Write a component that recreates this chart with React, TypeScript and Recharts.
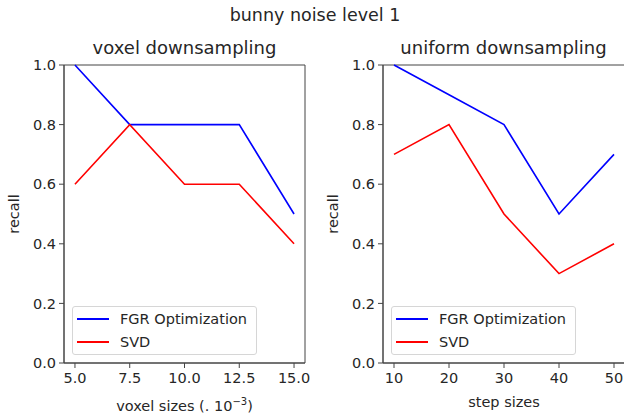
import React from 'react';
import { LineChart, Line, XAxis, YAxis, ReferenceArea } from 'recharts';

const voxelSizes = [5.0, 7.5, 10.0, 12.5, 15.0];
const voxelFGR = [1.0, 0.8, 0.8, 0.8, 0.5];
const voxelSVD = [0.6, 0.8, 0.6, 0.6, 0.4];
const stepSizes = [10, 20, 30, 40, 50];
const stepFGR = [1.0, 0.9, 0.8, 0.5, 0.7];
const stepSVD = [0.7, 0.8, 0.5, 0.3, 0.4];
const yTicks = [0, 0.2, 0.4, 0.6, 0.8, 1.0];
const seriesNames = ['FGR Optimization', 'SVD'];

const FONT = '"DejaVu Sans", sans-serif';
const TXT = '#262626';
const AX = '#444';
const FS = 14.5;

const voxelData = voxelSizes.map((x, i) => ({ x, fgr: voxelFGR[i], svd: voxelSVD[i] }));
const stepData = stepSizes.map((x, i) => ({ x, fgr: stepFGR[i], svd: stepSVD[i] }));

const tickStyle = { fill: TXT, fontSize: FS, fontFamily: FONT };

const LegendBox = ({ left, top }: { left: number; top: number }) => (
  <div
    style={{
      position: 'absolute',
      left,
      top,
      width: 185,
      height: 49,
      border: '1px solid #d6d6d6',
      borderRadius: 3,
      background: 'rgba(255,255,255,0.85)',
      fontFamily: FONT,
      fontSize: FS,
      color: TXT,
      boxSizing: 'border-box',
    }}
  >
    {seriesNames.map((n, i) => (
      <div key={n} style={{ position: 'absolute', left: 4, top: 3 + i * 23, height: 18, display: 'flex', alignItems: 'center' }}>
        <div style={{ width: 32, height: 2, background: i === 0 ? '#0000ff' : '#ff0000' }} />
        <span style={{ marginLeft: 11, whiteSpace: 'nowrap' }}>{n}</span>
      </div>
    ))}
  </div>
);

const RecallLabel = (props: any) => {
  const vb = props.viewBox || {};
  const cy = vb.y + vb.height / 2;
  return (
    <text
      x={14}
      y={cy}
      transform={`rotate(-90 14 ${cy})`}
      textAnchor="middle"
      dominantBaseline="central"
      fill={TXT}
      fontSize={FS}
      fontFamily={FONT}
    >
      recall
    </text>
  );
};

const Panel = ({
  data,
  domain,
  ticks,
  fmt,
  xLabel,
  rightMargin,
}: {
  data: any[];
  domain: [number, number];
  ticks: number[];
  fmt: (v: number) => string;
  xLabel: React.ReactNode;
  rightMargin: number;
}) => (
  <LineChart width={312} height={416} data={data} margin={{ top: 65, right: rightMargin, bottom: 0, left: 0 }}>
    <XAxis
      dataKey="x"
      type="number"
      domain={domain}
      ticks={ticks}
      tickFormatter={fmt}
      allowDataOverflow
      height={53}
      stroke={AX}
      tickSize={5}
      tick={tickStyle}
      tickMargin={5}
      label={xLabel as any}
    />
    <YAxis
      type="number"
      domain={[0, 1]}
      ticks={yTicks}
      tickFormatter={(v: number) => v.toFixed(1)}
      width={64}
      stroke={AX}
      tickSize={5}
      tick={tickStyle}
      tickMargin={3}
      label={<RecallLabel />}
    />
    <ReferenceArea x1={domain[0]} x2={domain[1]} y1={0} y2={1} fill="none" fillOpacity={0} stroke={AX} strokeWidth={1} ifOverflow="visible" />
    <Line dataKey="fgr" stroke="#0000ff" strokeWidth={1.6} dot={false} isAnimationActive={false} />
    <Line dataKey="svd" stroke="#ff0000" strokeWidth={1.6} dot={false} isAnimationActive={false} />
  </LineChart>
);

const VoxelLabel = (props: any) => {
  const vb = props.viewBox || {};
  const cx = vb.x + vb.width / 2;
  return (
    <text x={cx} y={411} textAnchor="middle" fill={TXT} fontSize={FS} fontFamily={FONT}>
      voxel sizes (. 10<tspan dy={-6} fontSize={10}>−3</tspan><tspan dy={6}>)</tspan>
    </text>
  );
};

const StepLabel = (props: any) => {
  const vb = props.viewBox || {};
  const cx = vb.x + vb.width / 2;
  return (
    <text x={cx} y={407} textAnchor="middle" fill={TXT} fontSize={FS} fontFamily={FONT}>
      step sizes
    </text>
  );
};

export default function App() {
  return (
    <div style={{ position: 'absolute', left: 0, top: 0, width: 624, height: 416, background: '#fff', overflow: 'hidden' }}>
      <div style={{ position: 'absolute', left: 3, top: 5, width: 624, textAlign: 'center', fontFamily: FONT, fontSize: 17.5, color: TXT }}>
        bunny noise level 1
      </div>
      <div style={{ position: 'absolute', left: 64, top: 37, width: 241, textAlign: 'center', fontFamily: FONT, fontSize: 18, color: TXT }}>
        voxel downsampling
      </div>
      <div style={{ position: 'absolute', left: 383, top: 37, width: 241, textAlign: 'center', fontFamily: FONT, fontSize: 18, color: TXT }}>
        uniform downsampling
      </div>
      <div style={{ position: 'absolute', left: 0, top: 0 }}>
        <Panel
          data={voxelData}
          domain={[4.5, 15.5]}
          ticks={voxelSizes}
          fmt={(v) => v.toFixed(1)}
          xLabel={<VoxelLabel />}
          rightMargin={7}
        />
      </div>
      <div style={{ position: 'absolute', left: 319, top: 0 }}>
        <Panel
          data={stepData}
          domain={[8, 52]}
          ticks={stepSizes}
          fmt={(v) => String(v)}
          xLabel={<StepLabel />}
          rightMargin={6}
        />
      </div>
      <LegendBox left={72} top={306} />
      <LegendBox left={391} top={306} />
    </div>
  );
}
